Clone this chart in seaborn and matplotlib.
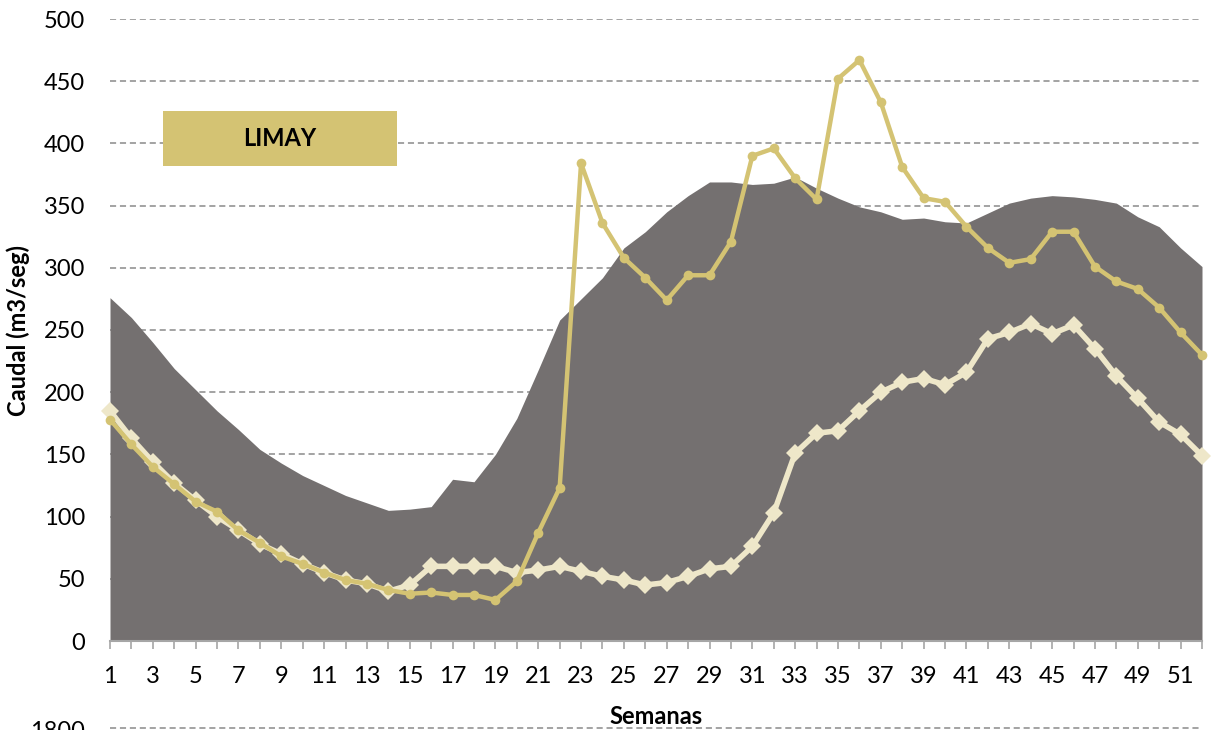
import matplotlib
matplotlib.use("Agg")
import matplotlib.pyplot as plt
import seaborn as sns
import numpy as np
import pandas as pd
from matplotlib.lines import Line2D

weeks = list(range(1, 53))

area_vals = [276, 260, 240, 219, 202, 185, 170, 154, 143, 133, 125, 117, 111, 105, 106, 108,
             130, 128, 150, 179, 218, 258, 275, 292, 316, 329, 345, 358, 369, 369, 367, 368,
             373, 364, 356, 349, 345, 339, 340, 337, 336, 344, 352, 356, 358, 357, 355, 352,
             341, 333, 316, 301]

gold_vals = [178, 158, 140, 126, 112, 104, 89, 79, 68, 62, 55, 49, 46, 41, 38, 39,
             37, 37, 33, 48, 87, 123, 384, 336, 308, 292, 274, 294, 294, 321, 390, 396,
             372, 355, 452, 467, 433, 381, 356, 353, 333, 316, 304, 307, 329, 329, 301, 289,
             283, 268, 248, 230]

cream_vals = [185, 163, 144, 127, 113, 100, 89, 78, 70, 62, 55, 49, 46, 40, 45, 60,
              60, 60, 60, 55, 57, 60, 56, 52, 49, 45, 47, 52, 58, 60, 76, 103,
              151, 167, 169, 185, 200, 208, 211, 206, 216, 243, 248, 255, 247, 254, 235, 213,
              195, 176, 166, 149]

ytick_vals = [0, 50, 100, 150, 200, 250, 300, 350, 400, 450, 500]
xtick_labels = [str(w) if w % 2 == 1 else "" for w in weeks]

sns.set_theme(style="white")
plt.rcParams['font.family'] = ['Lato', 'DejaVu Sans']

df = pd.DataFrame({"semana": weeks, "area": area_vals, "gold": gold_vals, "cream": cream_vals})

fig = plt.figure(figsize=(12.14, 7.30), dpi=100)
ax = fig.add_axes([110/1214, 1 - 641/730, (1202 - 110)/1214, (641 - 19)/730])

GREY = "#747070"
GOLD = "#D4C373"
CREAM = "#EEE7C9"

ax.fill_between(df["semana"], 0, df["area"], color=GREY, lw=0, zorder=2)

sns.lineplot(data=df, x="semana", y="cream", ax=ax, color=CREAM, lw=4.0,
             marker="D", markersize=9, markeredgewidth=0, zorder=3, clip_on=False)
sns.lineplot(data=df, x="semana", y="gold", ax=ax, color=GOLD, lw=3.2,
             marker="o", markersize=7, markeredgewidth=0, zorder=4, clip_on=False)

ax.set_xlim(1, 52)
ax.set_ylim(0, 500)
ax.set_yticks(ytick_vals)
ax.set_yticklabels([str(v) for v in ytick_vals], fontsize=17, color="#000000")
ax.set_xticks(weeks)
ax.set_xticklabels(xtick_labels, fontsize=17, color="#000000")

for y in ytick_vals[1:]:
    ax.axhline(y, color="#8a8a8a", lw=1.1, ls=(0, (4, 2.5)), zorder=1)

for s in ["left", "right", "top"]:
    ax.spines[s].set_visible(False)
ax.spines["bottom"].set_color("#a6a6a6")
ax.spines["bottom"].set_linewidth(1.5)
ax.spines["bottom"].set_zorder(5)

ax.tick_params(axis="y", length=0, pad=18)
ax.tick_params(axis="x", length=6, width=1.2, color="#a6a6a6", direction="out", pad=12, bottom=True)

ax.set_xlabel("Semanas", fontsize=17, fontweight="bold", color="#000000")
ax.set_ylabel("Caudal (m3/seg)", fontsize=17, fontweight="bold", color="#000000")
ax.xaxis.set_label_coords(0.50, -0.103)
ax.yaxis.set_label_coords(-0.073, 0.5)

# LIMAY label box
fig.patches.append(matplotlib.patches.Rectangle((163/1214, 1 - 166/730), (397 - 163)/1214, (166 - 111)/730,
                                                 transform=fig.transFigure, facecolor=GOLD,
                                                 edgecolor="none", zorder=10))
fig.text((163 + 397)/2/1214, 1 - 138.5/730, "LIMAY", ha="center", va="center",
         fontsize=17, fontweight="bold", color="#000000", zorder=11)

# partial elements of the adjoining chart (cut off at the bottom edge)
fig.text(85/1214, 1 - 731/730, "1800", ha="right", va="center", fontsize=17, color="#000000")
fig.lines.append(Line2D([110/1214, 1202/1214], [1 - 728/730, 1 - 728/730], transform=fig.transFigure,
                        color="#8a8a8a", lw=1.1, ls=(0, (4, 2.5))))

fig.savefig("out.png", dpi=100)
